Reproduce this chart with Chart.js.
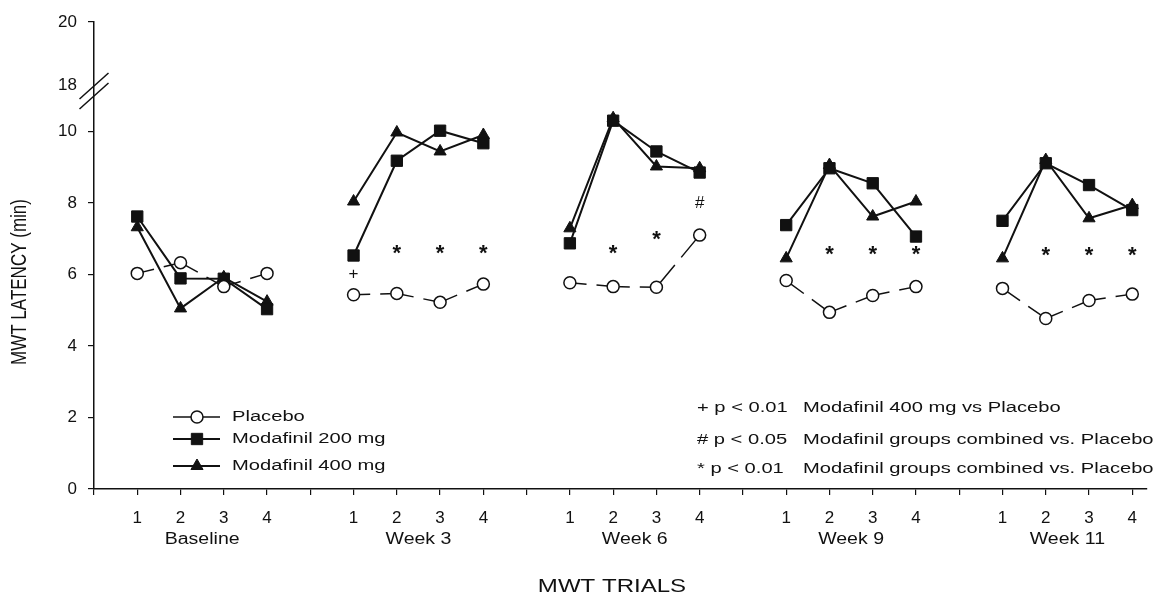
<!DOCTYPE html>
<html>
<head>
<meta charset="utf-8">
<title>MWT latency by trial</title>
<script src="https://cdn.jsdelivr.net/npm/chart.js@4.4.1/dist/chart.umd.min.js"></script>
<style>
  html, body { margin: 0; padding: 0; background: #fff; }
  canvas { display: block; }
</style>
</head>
<body>
<canvas id="chart" width="1156" height="597"></canvas>
<script>
// Sessions and the four MWT trials recorded in each session
const sessions = ['Baseline', 'Week 3', 'Week 6', 'Week 9', 'Week 11'];
const trials = ['1', '2', '3', '4'];

// Mean MWT latency (min): one row per session, one value per trial
const placebo = [
  [6.03, 6.33, 5.66, 6.03],
  [5.43, 5.47, 5.22, 5.73],
  [5.77, 5.66, 5.64, 7.10],
  [5.83, 4.94, 5.41, 5.66],
  [5.61, 4.77, 5.27, 5.45]
];
const modafinil200 = [
  [7.62, 5.89, 5.88, 5.03],
  [6.53, 9.18, 10.02, 9.67],
  [6.87, 10.30, 9.44, 8.85],
  [7.38, 8.97, 8.55, 7.06],
  [7.50, 9.11, 8.50, 7.80]
];
const modafinil400 = [
  [7.32, 5.05, 5.92, 5.24],
  [8.04, 9.97, 9.44, 9.90],
  [7.29, 10.37, 9.02, 8.97],
  [6.45, 9.06, 7.62, 8.04],
  [6.45, 9.20, 7.57, 7.94]
];

// Significance marks: session index, trial index, symbol, latency level it sits at
const sigSession = [1, 1, 1, 1, 2, 2, 2, 3, 3, 3, 4, 4, 4];
const sigTrial   = [0, 1, 2, 3, 1, 2, 3, 1, 2, 3, 1, 2, 3];
const sigSymbol  = ['+', '*', '*', '*', '*', '*', '#', '*', '*', '*', '*', '*', '*'];
const sigLevel   = [6.04, 6.71, 6.71, 6.71, 6.71, 7.10, 8.03, 6.66, 6.66, 6.66, 6.63, 6.63, 6.63];

// Footnotes for the significance marks
const footnoteMarks = ['+ p < 0.01', '# p < 0.05', '* p < 0.01'];
const footnoteTexts = [
  'Modafinil 400 mg vs Placebo',
  'Modafinil groups combined vs. Placebo',
  'Modafinil groups combined vs. Placebo'
];

// Y axis tick labels (min); the axis is broken between 10 and 18
const yTickValues = [0, 2, 4, 6, 8, 10, 18, 20];
const BREAK_FROM = 10, BREAK_TO = 18, BREAK_SPAN = 1.3, UPPER_RATIO = 0.88;
function axisValue(v) {
  return v <= BREAK_FROM ? v : BREAK_FROM + BREAK_SPAN + (v - BREAK_TO) * UPPER_RATIO;
}

// Each session takes five slots on the x axis: four trials and one empty slot
const SLOTS_PER_SESSION = 5;
function slot(s, t) { return s * SLOTS_PER_SESSION + t + 1; }
const xTickSlots = [];
for (let k = 0; k <= sessions.length * SLOTS_PER_SESSION - 1; k++) xTickSlots.push(k);
function slotLabel(k) {
  const r = k % SLOTS_PER_SESSION;
  return r === 0 ? '' : trials[r - 1];
}

function seriesPoints(rows) {
  const pts = [];
  rows.forEach((row, s) => {
    row.forEach((v, t) => pts.push({ x: slot(s, t), y: v }));
    if (s < rows.length - 1) pts.push({ x: slot(s, trials.length), y: null });
  });
  return pts;
}

const INK = '#111';
const FONT = '"Liberation Sans", Arial, Helvetica, sans-serif';

// Placebo segments are drawn with a break in the middle of each segment
function brokenSegment(ctx) {
  const L = Math.hypot(ctx.p1.x - ctx.p0.x, ctx.p1.y - ctx.p0.y);
  const gap = 10;
  const a = Math.max((L - gap) / 2, 0);
  return [a, gap, L + 2, 0];
}

const datasets = [
  {
    label: 'Placebo',
    data: seriesPoints(placebo),
    borderColor: INK,
    borderWidth: 1.5,
    pointStyle: 'circle',
    pointRadius: 6,
    pointBorderWidth: 1.5,
    pointBackgroundColor: '#fff',
    pointBorderColor: INK,
    segment: { borderDash: brokenSegment }
  },
  {
    label: 'Modafinil 200 mg',
    data: seriesPoints(modafinil200),
    borderColor: INK,
    borderWidth: 2,
    pointStyle: 'rect',
    pointRadius: 8,
    pointBorderWidth: 1,
    pointBackgroundColor: INK,
    pointBorderColor: INK
  },
  {
    label: 'Modafinil 400 mg',
    data: seriesPoints(modafinil400),
    borderColor: INK,
    borderWidth: 2,
    pointStyle: 'triangle',
    pointRadius: 7,
    pointBorderWidth: 1,
    pointBackgroundColor: INK,
    pointBorderColor: INK
  }
];

// Text drawn with a slight horizontal widening to suit the figure's lettering
function wideText(ctx, text, x, y, size, opts = {}) {
  const { align = 'left', stretch = 1.3, weight = 'normal', rotate = 0 } = opts;
  ctx.save();
  ctx.font = `${weight} ${size}px ${FONT}`;
  ctx.fillStyle = INK;
  ctx.textAlign = align;
  ctx.textBaseline = 'middle';
  ctx.translate(x, y);
  if (rotate) {
    ctx.rotate(rotate);
    ctx.scale(1, stretch);
  } else {
    ctx.scale(stretch, 1);
  }
  ctx.fillText(text, 0, 0);
  ctx.restore();
}

// Symbol centred on a point by its glyph bounds
function centredGlyph(ctx, text, x, y, size, weight) {
  ctx.save();
  ctx.font = `${weight} ${size}px ${FONT}`;
  ctx.fillStyle = INK;
  ctx.textAlign = 'center';
  ctx.textBaseline = 'alphabetic';
  const m = ctx.measureText(text);
  const asc = m.actualBoundingBoxAscent, desc = m.actualBoundingBoxDescent;
  ctx.fillText(text, x, y + (asc - desc) / 2);
  ctx.restore();
}

const annotations = {
  id: 'annotations',
  afterDraw(chart) {
    const { ctx, scales: { x, y } } = chart;

    // axis break marks
    const by = y.getPixelForValue(axisValue(BREAK_TO)) + 6;
    const ax = x.left;
    ctx.save();
    ctx.strokeStyle = INK;
    ctx.lineWidth = 1.5;
    [-5, 5].forEach(off => {
      ctx.beginPath();
      ctx.moveTo(ax - 14.5, by + off + 13);
      ctx.lineTo(ax + 14.5, by + off - 13);
      ctx.stroke();
    });
    ctx.restore();

    // session names under the trial numbers
    sessions.forEach((name, s) => {
      wideText(ctx, name, x.getPixelForValue(slot(s, 1.5)), 540, 16, { align: 'center', stretch: 1.22 });
    });

    // significance symbols
    sigSymbol.forEach((sym, i) => {
      const px = x.getPixelForValue(slot(sigSession[i], sigTrial[i]));
      const py = y.getPixelForValue(axisValue(sigLevel[i]));
      if (sym === '*') centredGlyph(ctx, sym, px, py, 22, 'bold');
      else if (sym === '+') centredGlyph(ctx, sym, px, py, 17, 'normal');
      else centredGlyph(ctx, sym, px, py, 17, 'normal');
    });

    // axis titles
    wideText(ctx, 'MWT LATENCY (min)', 20, 282, 17, { align: 'center', rotate: -Math.PI / 2, stretch: 1.3 });
    wideText(ctx, 'MWT TRIALS', 612, 587, 18.5, { align: 'center', stretch: 1.3 });

    // legend
    const legendY = [417, 439, 466];
    chart.data.datasets.forEach((ds, i) => {
      const ly = legendY[i];
      ctx.save();
      ctx.strokeStyle = INK;
      ctx.lineWidth = ds.borderWidth;
      ctx.beginPath();
      ctx.moveTo(173, ly);
      ctx.lineTo(220, ly);
      ctx.stroke();
      ctx.fillStyle = ds.pointBackgroundColor;
      ctx.strokeStyle = ds.pointBorderColor;
      ctx.lineWidth = ds.pointBorderWidth;
      Chart.helpers.drawPoint(ctx, {
        pointStyle: ds.pointStyle, radius: ds.pointRadius, rotation: 0, borderWidth: ds.pointBorderWidth
      }, 197, ly);
      ctx.restore();
      wideText(ctx, ds.label, 232, ly, 15.5, { stretch: 1.3 });
    });

    // footnotes
    const noteY = [408, 440, 469];
    footnoteMarks.forEach((m, i) => {
      wideText(ctx, m, 697, noteY[i], 15.5, { stretch: 1.3 });
      wideText(ctx, footnoteTexts[i], 803, noteY[i], 15.5, { stretch: 1.3 });
    });
  }
};

new Chart(document.getElementById('chart'), {
  type: 'line',
  data: { datasets },
  plugins: [annotations],
  options: {
    responsive: false,
    animation: false,
    parsing: true,
    spanGaps: false,
    layout: { padding: { top: 22, left: 0, right: 0, bottom: 0 } },
    plugins: { legend: { display: false }, tooltip: { enabled: false } },
    scales: {
      x: {
        type: 'linear',
        min: 0,
        max: 24.34,
        afterBuildTicks: s => { s.ticks = xTickSlots.map(v => ({ value: v })); },
        afterFit: s => { s.height = 108; },
        ticks: {
          autoSkip: false,
          maxRotation: 0,
          minRotation: 0,
          padding: 13,
          color: INK,
          font: { family: FONT, size: 17 },
          callback: v => slotLabel(v)
        },
        grid: { drawOnChartArea: false, drawTicks: true, tickLength: 6, color: INK, lineWidth: 1.2 },
        border: { display: true, color: INK, width: 1.5 }
      },
      y: {
        type: 'linear',
        min: 0,
        max: axisValue(20),
        afterBuildTicks: s => { s.ticks = yTickValues.map(v => ({ value: axisValue(v) })); },
        afterFit: s => { s.width = 94; },
        ticks: {
          padding: 11,
          color: INK,
          font: { family: FONT, size: 17 },
          callback: (v, i) => String(yTickValues[i])
        },
        grid: {
          drawOnChartArea: false,
          drawTicks: true,
          tickLength: 6,
          lineWidth: 1.2,
          color: ctx => (ctx.tick && Math.abs(ctx.tick.value - axisValue(BREAK_TO)) < 1e-6) ? 'rgba(0,0,0,0)' : INK
        },
        border: { display: true, color: INK, width: 1.5 }
      }
    }
  }
});
</script>
</body>
</html>
